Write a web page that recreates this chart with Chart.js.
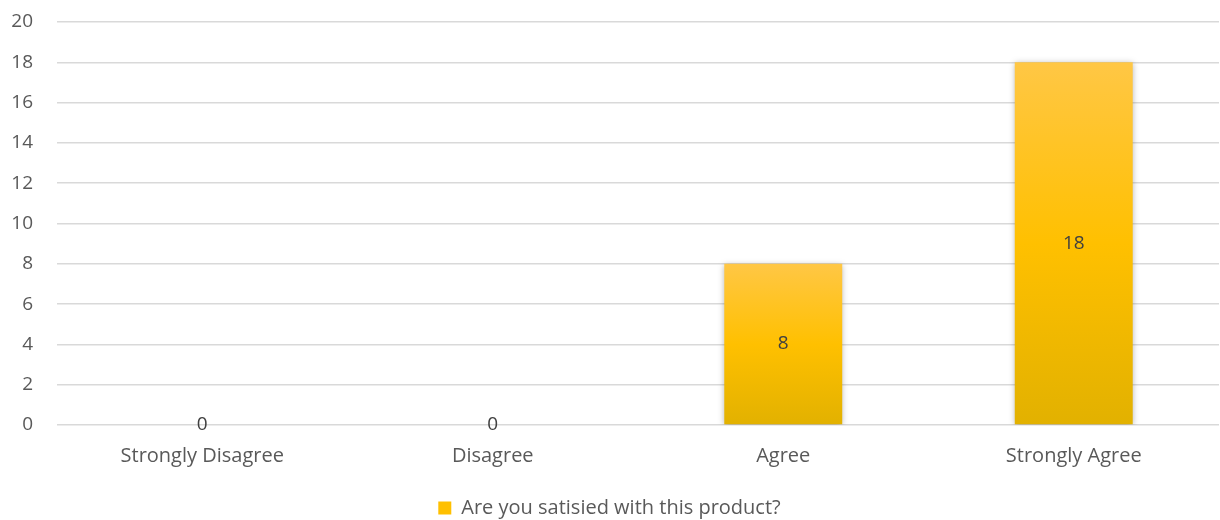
<!DOCTYPE html>
<html>
<head>
<meta charset="utf-8">
<script src="https://cdn.jsdelivr.net/npm/chart.js@4"></script>
<style>
  html, body { margin: 0; padding: 0; background: #fff; }
  #wrap { width: 1220px; height: 520px; }
</style>
</head>
<body>
<div id="wrap"><canvas id="satisfactionChart"></canvas></div>
<script>
// Survey answers
const categories = ['Strongly Disagree', 'Disagree', 'Agree', 'Strongly Agree'];
const responses = [0, 0, 8, 18];
const seriesLabel = 'Are you satisied with this product?';
const yTicks = [0, 2, 4, 6, 8, 10, 12, 14, 16, 18, 20];

const FONT = "'Open Sans', sans-serif";
const TEXT = '#595959';

// vertical gold gradient spanning each bar
function barFill(ctx) {
  const chart = ctx.chart;
  const y = chart.scales.y;
  if (!y || ctx.type !== 'data') return '#FFC000';
  const top = y.getPixelForValue(ctx.raw);
  const base = y.getPixelForValue(0);
  if (base - top < 1) return '#FFC000';
  const g = chart.ctx.createLinearGradient(0, top, 0, base);
  g.addColorStop(0, '#FFC745');
  g.addColorStop(0.5, '#FFC000');
  g.addColorStop(1, '#E2B100');
  return g;
}

// soft grey glow behind the bars
const barShadow = {
  id: 'barShadow',
  beforeDatasetsDraw(chart) {
    const c = chart.ctx;
    c.save();
    c.shadowColor = 'rgba(0,0,0,0.28)';
    c.shadowBlur = 6;
    c.shadowOffsetX = 0;
    c.shadowOffsetY = 1;
  },
  afterDatasetsDraw(chart) {
    chart.ctx.restore();
  }
};

// value printed in the middle of each bar
const valueLabels = {
  id: 'valueLabels',
  afterDatasetsDraw(chart) {
    const c = chart.ctx;
    const meta = chart.getDatasetMeta(0);
    c.save();
    c.font = '19px ' + FONT;
    c.fillStyle = '#404040';
    c.textAlign = 'center';
    c.textBaseline = 'middle';
    meta.data.forEach((bar, i) => {
      const v = chart.data.datasets[0].data[i];
      c.fillText(String(v), bar.x, (bar.y + bar.base) / 2);
    });
    c.restore();
  }
};

// pull the legend a bit closer to the bottom edge
const tightLegend = {
  id: 'tightLegend',
  beforeLayout(chart) {
    const lg = chart.legend;
    if (lg && !lg._tight) {
      lg._tight = true;
      const fit = lg.fit;
      lg.fit = function () {
        fit.call(this);
        this.height -= 8;
      };
    }
  }
};

new Chart(document.getElementById('satisfactionChart'), {
  type: 'bar',
  data: {
    labels: categories,
    datasets: [{
      label: seriesLabel,
      data: responses,
      backgroundColor: barFill,
      borderWidth: 0,
      barPercentage: 0.406,
      categoryPercentage: 1
    }]
  },
  options: {
    responsive: true,
    maintainAspectRatio: false,
    animation: false,
    layout: { padding: { top: 0, right: 1, left: 0, bottom: 0 } },
    plugins: {
      tooltip: { enabled: false },
      legend: {
        position: 'bottom',
        labels: {
          font: { family: FONT, size: 20 },
          color: TEXT,
          boxWidth: 13,
          boxHeight: 13,
          padding: 0,
          generateLabels: chart => [{
            text: seriesLabel,
            fillStyle: '#FFC000',
            strokeStyle: '#FFC000',
            fontColor: TEXT,
            lineWidth: 0,
            datasetIndex: 0
          }]
        }
      }
    },
    scales: {
      x: {
        grid: { display: false },
        border: { display: false },
        afterFit: axis => { axis.height = 73; },
        ticks: {
          color: TEXT,
          font: { family: FONT, size: 20 },
          padding: 11
        }
      },
      y: {
        min: 0,
        max: 20,
        afterBuildTicks: axis => { axis.ticks = yTicks.map(v => ({ value: v })); },
        afterFit: axis => {
          axis.width = 57;
          axis.paddingTop = 22;
        },
        grid: { color: '#D9D9D9', lineWidth: 1.5, drawTicks: false },
        border: { display: false },
        ticks: {
          color: TEXT,
          font: { family: FONT, size: 19 },
          padding: 24
        }
      }
    }
  },
  plugins: [tightLegend, barShadow, valueLabels]
});
</script>
</body>
</html>
